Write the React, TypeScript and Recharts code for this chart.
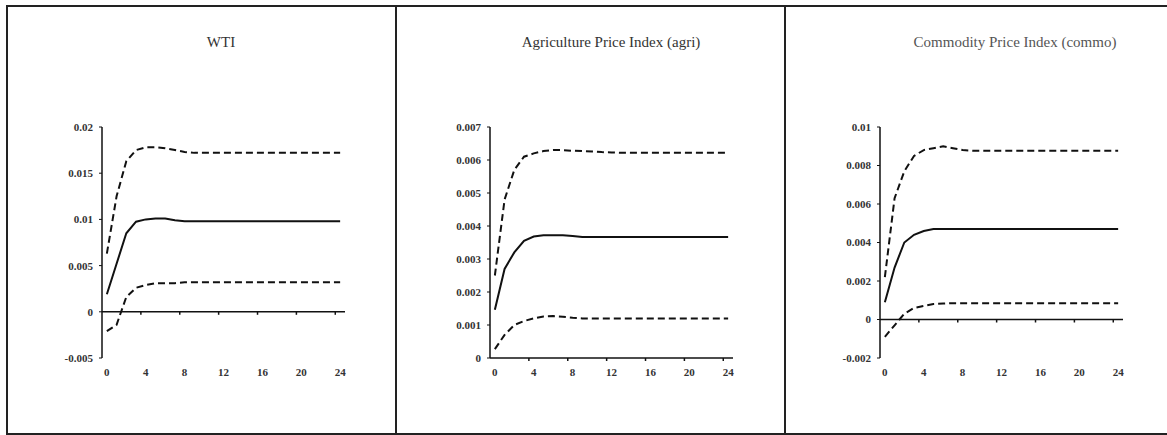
import { LineChart, Line, XAxis, YAxis, ReferenceLine } from 'recharts'

// horizon (months) and axis ticks
const periods = [0, 1, 2, 3, 4, 5, 6, 7, 8, 9, 10, 11, 12, 13, 14, 15, 16, 17, 18, 19, 20, 21, 22, 23, 24]
const xTicks = [0, 4, 8, 12, 16, 20, 24]
const xTickMarks = [3.5, 7.5, 11.5, 15.5, 19.5, 23.5]

// WTI
const wtiResponse = [0.0019, 0.0052, 0.0085, 0.00975, 0.01, 0.0101, 0.0101, 0.0099, 0.0098, 0.0098, 0.0098, 0.0098, 0.0098, 0.0098, 0.0098, 0.0098, 0.0098, 0.0098, 0.0098, 0.0098, 0.0098, 0.0098, 0.0098, 0.0098, 0.0098]
const wtiUpper = [0.0063, 0.0125, 0.0163, 0.0175, 0.0178, 0.0178, 0.0177, 0.0175, 0.0173, 0.0172, 0.0172, 0.0172, 0.0172, 0.0172, 0.0172, 0.0172, 0.0172, 0.0172, 0.0172, 0.0172, 0.0172, 0.0172, 0.0172, 0.0172, 0.0172]
const wtiLower = [-0.0021, -0.0014, 0.0016, 0.0026, 0.0029, 0.0031, 0.0031, 0.0031, 0.0032, 0.0032, 0.0032, 0.0032, 0.0032, 0.0032, 0.0032, 0.0032, 0.0032, 0.0032, 0.0032, 0.0032, 0.0032, 0.0032, 0.0032, 0.0032, 0.0032]
const wtiYTicks = [-0.005, 0, 0.005, 0.01, 0.015, 0.02]

// Agriculture price index
const agriResponse = [0.00146, 0.0027, 0.0032, 0.00355, 0.00368, 0.00372, 0.00372, 0.00372, 0.0037, 0.00367, 0.00367, 0.00367, 0.00367, 0.00367, 0.00367, 0.00367, 0.00367, 0.00367, 0.00367, 0.00367, 0.00367, 0.00367, 0.00367, 0.00367, 0.00367]
const agriUpper = [0.0025, 0.0048, 0.0057, 0.0061, 0.0062, 0.00627, 0.0063, 0.0063, 0.00628, 0.00627, 0.00626, 0.00624, 0.00623, 0.00622, 0.00622, 0.00622, 0.00622, 0.00622, 0.00622, 0.00622, 0.00622, 0.00622, 0.00622, 0.00622, 0.00622]
const agriLower = [0.00027, 0.0007, 0.001, 0.00112, 0.0012, 0.00126, 0.00127, 0.00125, 0.00122, 0.0012, 0.0012, 0.0012, 0.0012, 0.0012, 0.0012, 0.0012, 0.0012, 0.0012, 0.0012, 0.0012, 0.0012, 0.0012, 0.0012, 0.0012, 0.0012]
const agriYTicks = [0, 0.001, 0.002, 0.003, 0.004, 0.005, 0.006, 0.007]

// Commodity price index
const commoResponse = [0.0009, 0.0027, 0.004, 0.0044, 0.0046, 0.0047, 0.0047, 0.0047, 0.0047, 0.0047, 0.0047, 0.0047, 0.0047, 0.0047, 0.0047, 0.0047, 0.0047, 0.0047, 0.0047, 0.0047, 0.0047, 0.0047, 0.0047, 0.0047, 0.0047]
const commoUpper = [0.0022, 0.0063, 0.0077, 0.0085, 0.0088, 0.0089, 0.009, 0.0089, 0.0088, 0.00877, 0.00877, 0.00877, 0.00877, 0.00877, 0.00877, 0.00877, 0.00877, 0.00877, 0.00877, 0.00877, 0.00877, 0.00877, 0.00877, 0.00877, 0.00877]
const commoLower = [-0.0009, -0.0003, 0.0003, 0.0006, 0.0007, 0.0008, 0.00083, 0.00085, 0.00085, 0.00085, 0.00085, 0.00085, 0.00085, 0.00085, 0.00085, 0.00085, 0.00085, 0.00085, 0.00085, 0.00085, 0.00085, 0.00085, 0.00085, 0.00085, 0.00085]
const commoYTicks = [-0.002, 0, 0.002, 0.004, 0.006, 0.008, 0.01]

const toRows = (resp: number[], upper: number[], lower: number[]) =>
  periods.map((p, i) => ({ period: p, resp: resp[i], upper: upper[i], lower: lower[i] }))

const font = 'Liberation Serif, Times New Roman, serif'
const ink = '#111'
const PLOT_H = 231
const tickStyle = { fontSize: 11, fontFamily: font, fill: '#333', fontWeight: 'bold' as const }

type PanelProps = {
  title: string
  rows: { period: number; resp: number; upper: number; lower: number }[]
  yTicks: number[]
  chartLeft: number
  titleCenter: number
  titleColor: string
}

function Panel({ title, rows, yTicks, chartLeft, titleCenter, titleColor }: PanelProps) {
  const yMin = yTicks[0]
  const yMax = yTicks[yTicks.length - 1]
  // tick marks hang ~3px below the zero line
  const markLen = ((yMax - yMin) * 3) / PLOT_H
  return (
    <>
      <div
        style={{
          position: 'absolute',
          left: titleCenter - 160,
          width: 320,
          top: 34,
          lineHeight: '17px',
          textAlign: 'center',
          fontFamily: font,
          fontSize: 15,
          color: titleColor,
        }}
      >
        {title}
      </div>
      <div style={{ position: 'absolute', left: chartLeft, top: 0 }}>
        <LineChart
          width={290}
          height={435}
          data={rows}
          margin={{ top: 127, right: 7, bottom: 57, left: 0 }}
        >
          <XAxis
            dataKey="period"
            type="number"
            domain={[-0.5, 24.5]}
            ticks={xTicks}
            interval={0}
            axisLine={false}
            tickLine={false}
            tickSize={0}
            tickMargin={10}
            height={20}
            tick={tickStyle}
          />
          <YAxis
            type="number"
            domain={[yMin, yMax]}
            ticks={yTicks}
            interval={0}
            width={40}
            tickSize={3}
            tickMargin={6}
            axisLine={{ stroke: ink, strokeWidth: 1.5 }}
            tickLine={{ stroke: ink }}
            tickFormatter={(v: number) => String(v)}
            tick={tickStyle}
          />
          <ReferenceLine y={0} stroke={ink} strokeWidth={1.5} ifOverflow="visible" />
          {xTickMarks.map((t) => (
            <ReferenceLine
              key={t}
              segment={[
                { x: t, y: 0 },
                { x: t, y: -markLen },
              ]}
              stroke={ink}
              strokeWidth={1.5}
              ifOverflow="visible"
            />
          ))}
          <Line type="linear" dataKey="upper" stroke={ink} strokeWidth={2} strokeDasharray="7 4" dot={false} isAnimationActive={false} />
          <Line type="linear" dataKey="lower" stroke={ink} strokeWidth={2} strokeDasharray="7 4" dot={false} isAnimationActive={false} />
          <Line type="linear" dataKey="resp" stroke={ink} strokeWidth={2} dot={false} isAnimationActive={false} />
        </LineChart>
      </div>
    </>
  )
}

export default function App() {
  return (
    <div style={{ position: 'fixed', left: 0, top: 0, width: 1167, height: 435, background: '#fff', overflow: 'hidden' }}>
      {/* frame: top, left and bottom rules plus two dividers */}
      <div
        style={{
          position: 'absolute',
          left: 6,
          top: 5,
          width: 1170,
          height: 426,
          borderTop: '2px solid #222',
          borderLeft: '2px solid #222',
          borderBottom: '2px solid #222',
        }}
      />
      <div style={{ position: 'absolute', left: 395, top: 5, width: 2, height: 430, background: '#222' }} />
      <div style={{ position: 'absolute', left: 784, top: 5, width: 2, height: 430, background: '#222' }} />

      <Panel title="WTI" rows={toRows(wtiResponse, wtiUpper, wtiLower)} yTicks={wtiYTicks} chartLeft={62} titleCenter={221} titleColor="#333" />
      <Panel
        title="Agriculture Price Index (agri)"
        rows={toRows(agriResponse, agriUpper, agriLower)}
        yTicks={agriYTicks}
        chartLeft={450}
        titleCenter={611}
        titleColor="#333"
      />
      <Panel
        title="Commodity Price Index (commo)"
        rows={toRows(commoResponse, commoUpper, commoLower)}
        yTicks={commoYTicks}
        chartLeft={840}
        titleCenter={1015}
        titleColor="#555"
      />
    </div>
  )
}
